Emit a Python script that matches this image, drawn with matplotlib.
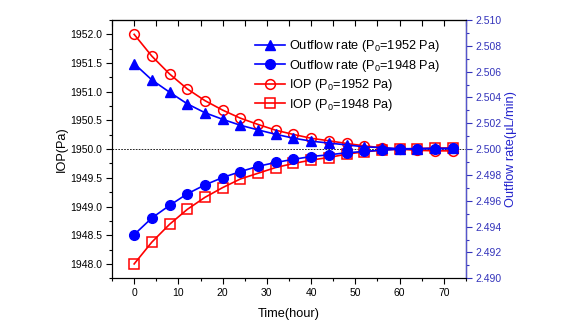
import numpy as np
import matplotlib.pyplot as plt
from matplotlib.ticker import MultipleLocator

plt.rcParams['font.family'] = ['Liberation Sans', 'DejaVu Sans']
plt.rcParams['mathtext.default'] = 'regular'

# data
time = [0, 4, 8, 12, 16, 20, 24, 28, 32, 36, 40, 44, 48, 52, 56, 60, 64, 68, 72]
iop_1952 = [1952.00, 1951.62, 1951.31, 1951.05, 1950.845, 1950.68, 1950.54, 1950.43, 1950.33, 1950.256,
            1950.19, 1950.146, 1950.099, 1950.058, 1950.023, 1950.00, 1949.98, 1949.97, 1949.97]
iop_1948 = [1948.00, 1948.38, 1948.69, 1948.95, 1949.16, 1949.33, 1949.48, 1949.58, 1949.68, 1949.75,
            1949.81, 1949.854, 1949.913, 1949.953, 1949.983, 1950.00, 1950.01, 1950.02, 1950.02]
flow_1952 = [2.50662, 2.50536, 2.50441, 2.50351, 2.50282, 2.50231, 2.50185, 2.50149, 2.50115, 2.50085,
             2.50062, 2.50047, 2.50033, 2.50018, 2.50012, 2.50003, 2.50004, 2.50005, 2.50005]
flow_1948 = [2.49338, 2.49467, 2.49564, 2.49654, 2.49723, 2.49780, 2.49826, 2.49867, 2.49897, 2.49921,
             2.49943, 2.49956, 2.49972, 2.49982, 2.49992, 2.50000, 2.50003, 2.50004, 2.50005]

blue = '#0000ff'
red = '#ff0000'
axis_blue = '#3333bb'

fig = plt.figure(figsize=(5.85, 3.3), dpi=100)
ax = fig.add_axes([0.1915, 0.1567, 0.605, 0.7827])
ax2 = ax.twinx()

# IOP on the left axis
l3, = ax.plot(time, iop_1952, '-o', color=red, lw=1.2, ms=7, mfc='none', mec=red, mew=1.1,
              label='IOP (P$_0$=1952 Pa)')
l4, = ax.plot(time, iop_1948, '-s', color=red, lw=1.2, ms=6.5, mfc='none', mec=red, mew=1.1,
              label='IOP (P$_0$=1948 Pa)')
ax.axhline(1950, color='black', lw=0.6, linestyle=(0, (2, 1.5)), zorder=0)

# outflow on the right axis
l1, = ax2.plot(time, flow_1952, '-^', color=blue, lw=1.2, ms=7.5, label='Outflow rate (P$_0$=1952 Pa)')
l2, = ax2.plot(time, flow_1948, '-o', color=blue, lw=1.2, ms=7, label='Outflow rate (P$_0$=1948 Pa)')

ax.set_xlim(-5, 75)
ax.set_ylim(1947.75, 1952.25)
ax2.set_ylim(2.49, 2.51)

ax.xaxis.set_major_locator(MultipleLocator(10))
ax.xaxis.set_minor_locator(MultipleLocator(5))
ax.yaxis.set_major_locator(MultipleLocator(0.5))
ax.yaxis.set_minor_locator(MultipleLocator(0.25))
ax.yaxis.set_major_formatter('{x:.1f}')
ax2.yaxis.set_major_locator(MultipleLocator(0.002))
ax2.yaxis.set_minor_locator(MultipleLocator(0.001))
ax2.yaxis.set_major_formatter('{x:.3f}')

ax.tick_params(axis='both', which='major', direction='out', length=4, width=0.8, labelsize=7.5, pad=3)
ax.tick_params(axis='both', which='minor', direction='out', length=2.5, width=0.8)
ax2.tick_params(axis='y', which='major', direction='out', length=4, width=0.8, labelsize=7.5,
                colors=axis_blue, pad=3)
ax2.tick_params(axis='y', which='minor', direction='out', length=2.5, width=0.8, colors=axis_blue)
ax2.spines['right'].set_color('#5555cc')
ax2.spines['right'].set_linewidth(1.0)

# top axis ticks pointing inwards
top = ax.secondary_xaxis('top')
top.xaxis.set_major_locator(MultipleLocator(10))
top.xaxis.set_minor_locator(MultipleLocator(5))
top.tick_params(which='both', direction='in', length=4, width=0.8, labeltop=False)

ax.set_xlabel('Time(hour)', fontsize=9.2)
ax.set_ylabel('IOP(Pa)', fontsize=9.2)
ax2.set_ylabel('Outflow rate(\u03bcL/min)', fontsize=9.2, color='#2222cc')
ax.xaxis.set_label_coords(0.5, -0.115)
ax.yaxis.set_label_coords(-0.124, 0.5)
ax2.yaxis.set_label_coords(1.11, 0.5)

ax2.legend(handles=[l1, l2, l3, l4], loc='upper left', bbox_to_anchor=(0.405, 0.93), frameon=False,
           fontsize=9.2, handlelength=2.3, handletextpad=0.3, labelspacing=0.28,
           borderpad=0, borderaxespad=0)

fig.savefig('out.png', dpi=100)
